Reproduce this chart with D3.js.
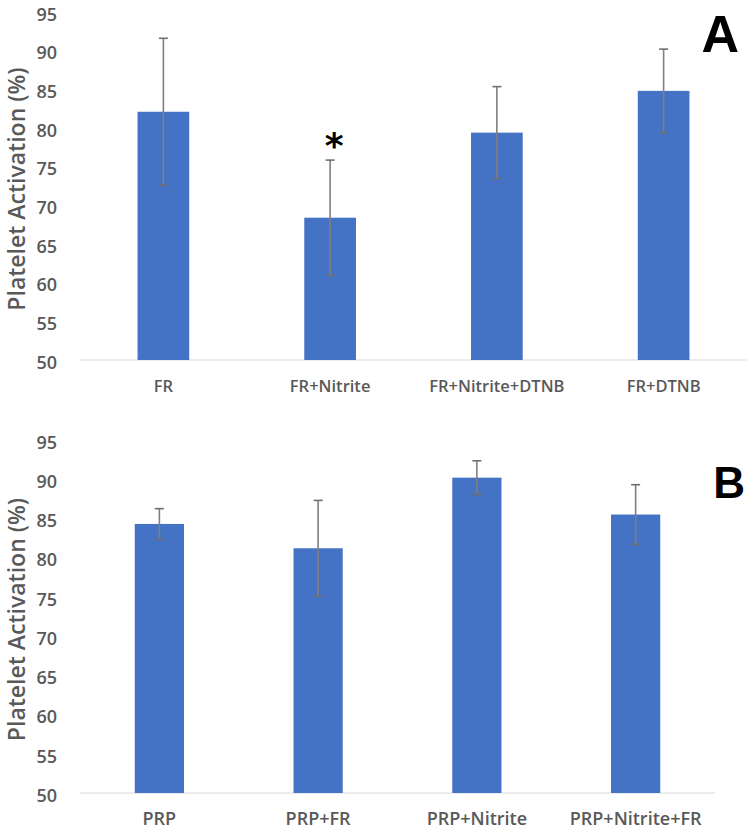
<!DOCTYPE html>
<html>
<head>
<meta charset="utf-8">
<script src="https://cdn.jsdelivr.net/npm/d3@7"></script>
<style>
  html, body { margin: 0; padding: 0; background: #fff; }
  svg { display: block; }
</style>
</head>
<body>
<svg id="chart" width="750" height="831"></svg>
<script>
// ---- Data ----
const categoriesA = ["FR", "FR+Nitrite", "FR+Nitrite+DTNB", "FR+DTNB"];
const valuesA = [82.1, 68.4, 79.4, 84.8];
const errorsA = [9.5, 7.45, 5.95, 5.4];
const significantA = [false, true, false, false];

const categoriesB = ["PRP", "PRP+FR", "PRP+Nitrite", "PRP+Nitrite+FR"];
const valuesB = [84.3, 81.2, 90.2, 85.5];
const errorsB = [1.95, 6.1, 2.15, 3.8];

const yTicks = [50, 55, 60, 65, 70, 75, 80, 85, 90, 95];
const yDomain = [50, 95];
const yTitle = "Platelet Activation (%)";

const svg = d3.select("#chart");
const FONT = "'Open Sans', 'Noto Sans', sans-serif";
const TXT = "#595959";

function panel(cfg) {
  const g = svg.append("g");
  const x = d3.scaleBand().domain(cfg.categories).range([cfg.x0, cfg.x1])
    .paddingInner(0.69).paddingOuter(0.345);
  const y = d3.scaleLinear().domain(yDomain).range([cfg.yBase, cfg.yTop]);

  // y tick labels
  const yAxis = d3.axisLeft(y).tickValues(yTicks).tickSize(0).tickPadding(0);
  const ya = g.append("g").attr("transform", `translate(${cfg.x0 - 23},2.5)`).call(yAxis);
  ya.select(".domain").remove();
  ya.selectAll("text").attr("font-family", FONT).attr("font-size", 18)
    .attr("font-weight", 600).attr("fill", TXT);

  // baseline
  g.append("line").attr("x1", cfg.x0).attr("x2", cfg.x1)
    .attr("y1", y(50)).attr("y2", y(50))
    .attr("stroke", "#d9d9d9").attr("stroke-width", 1.2);

  // bars
  g.selectAll("rect.bar").data(cfg.values).join("rect")
    .attr("class", "bar")
    .attr("x", (d, i) => x(cfg.categories[i]))
    .attr("width", x.bandwidth())
    .attr("y", d => y(d))
    .attr("height", d => y(50) - y(d))
    .attr("fill", "#4472C4");

  // error bars
  const eb = g.selectAll("g.err").data(cfg.values).join("g").attr("class", "err");
  eb.append("line")
    .attr("x1", (d, i) => x(cfg.categories[i]) + x.bandwidth() / 2)
    .attr("x2", (d, i) => x(cfg.categories[i]) + x.bandwidth() / 2)
    .attr("y1", (d, i) => y(d + cfg.errors[i]))
    .attr("y2", (d, i) => y(d - cfg.errors[i]))
    .attr("stroke", "#7f7f7f").attr("stroke-width", 1.6);
  [1, -1].forEach(s => {
    eb.append("line")
      .attr("x1", (d, i) => x(cfg.categories[i]) + x.bandwidth() / 2 - 4.5)
      .attr("x2", (d, i) => x(cfg.categories[i]) + x.bandwidth() / 2 + 4.5)
      .attr("y1", (d, i) => y(d + s * cfg.errors[i]))
      .attr("y2", (d, i) => y(d + s * cfg.errors[i]))
      .attr("stroke", "#6f6f6f").attr("stroke-width", 1.6);
  });

  // x labels
  g.selectAll("text.xl").data(cfg.categories).join("text")
    .attr("class", "xl")
    .attr("x", d => x(d) + x.bandwidth() / 2)
    .attr("y", cfg.labelY)
    .attr("text-anchor", "middle")
    .attr("font-family", FONT).attr("font-size", cfg.labelSize)
    .attr("font-weight", 600).attr("fill", TXT)
    .text(d => d);

  // significance
  if (cfg.sig) {
    g.selectAll("text.sig").data(cfg.values.map((v, i) => ({v, i})).filter(o => cfg.sig[o.i])).join("text")
      .attr("class", "sig")
      .attr("x", o => x(cfg.categories[o.i]) + x.bandwidth() / 2 + 4)
      .attr("y", o => y(o.v + cfg.errors[o.i]) + 0)
      .attr("dy", -2)
      .attr("text-anchor", "middle")
      .attr("font-family", "'DejaVu Sans', sans-serif").attr("font-size", 36)
      .attr("font-weight", "bold").attr("fill", "#000")
      .text("*");
  }

  // y title
  g.append("text")
    .attr("transform", `translate(25,${(cfg.yBase + cfg.yTop) / 2 + 3}) rotate(-90)`)
    .attr("text-anchor", "middle")
    .attr("font-family", FONT).attr("font-size", 23)
    .attr("font-weight", 600).attr("fill", TXT)
    .text(yTitle);

  // panel letter
  g.append("text")
    .attr("x", cfg.letterX).attr("y", cfg.letterY)
    .attr("text-anchor", "end")
    .attr("font-family", "'Liberation Sans', Arial, sans-serif")
    .attr("font-size", cfg.letterSize).attr("font-weight", "bold").attr("fill", "#000")
    .text(cfg.letter);
}

panel({
  categories: categoriesA, values: valuesA, errors: errorsA, sig: significantA,
  x0: 80, x1: 747, yBase: 360, yTop: 12, labelY: 392, labelSize: 16.5,
  letter: "A", letterX: 739, letterY: 52, letterSize: 52
});
panel({
  categories: categoriesB, values: valuesB, errors: errorsB, sig: null,
  x0: 80, x1: 715, yBase: 793, yTop: 440, labelY: 825, labelSize: 18,
  letter: "B", letterX: 745, letterY: 498, letterSize: 44
});
</script>
</body>
</html>
